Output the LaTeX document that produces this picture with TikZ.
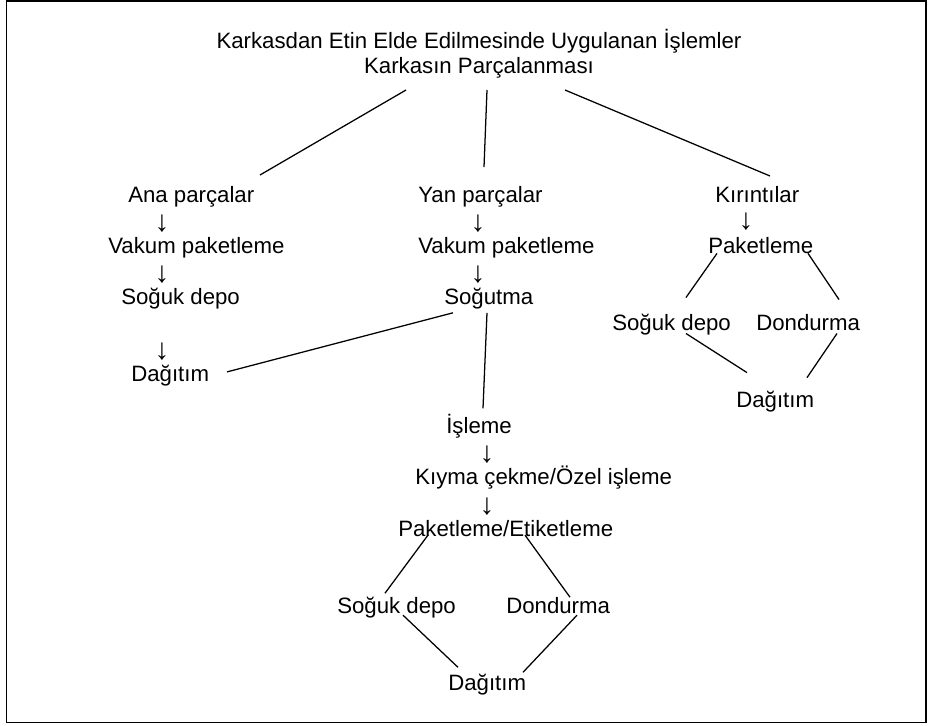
\documentclass[tikz,border=0pt]{standalone}
\usepackage{fontspec}
\setmainfont{Liberation Sans}
\usepackage{tikz}
\tikzstyle{metin}=[inner sep=0pt,anchor=base west,font=\fontsize{15.8}{18}\selectfont]
\tikzstyle{baslik}=[inner sep=0pt,anchor=base,font=\fontsize{15.8}{18}\selectfont]
\tikzstyle{ok}=[inner sep=0pt,anchor=center,font=\fontsize{21}{24}\selectfont]
\tikzstyle{hat}=[line width=0.9pt]
\tikzstyle{cerceve}=[line width=1.2pt]
\begin{document}
\begin{tikzpicture}[x=0.025cm,y=-0.025cm]
\useasboundingbox (0,0) rectangle (934,725);
\draw[cerceve] (6.5,1) rectangle (926,722.5);
\node[baslik] (t1) at (479,48) {Karkasdan Etin Elde Edilmesinde Uygulanan İşlemler};
\node[baslik] (t2) at (479,73.5) {Karkasın Parçalanması};
% ana parcalar
\node[metin] (a1) at (128,202) {Ana parçalar};
\node[ok] (oa1) at (162,223.5) {↓};
\node[metin] (a2) at (108,253.4) {Vakum paketleme};
\node[ok] (oa2) at (162,275) {↓};
\node[metin] (a3) at (121,304.8) {Soğuk depo};
\node[ok] (oa3) at (162,352) {↓};
\node[metin] (a4) at (131,381.9) {Dağıtım};
% yan parcalar
\node[metin] (b1) at (418,202) {Yan parçalar};
\node[ok] (ob1) at (478,223.5) {↓};
\node[metin] (b2) at (418,253.4) {Vakum paketleme};
\node[ok] (ob2) at (478,275) {↓};
\node[metin] (b3) at (444,304.8) {Soğutma};
\node[metin] (b4) at (446,433.3) {İşleme};
\node[ok] (ob3) at (487,455) {↓};
\node[metin] (b5) at (415,484.7) {Kıyma çekme/Özel işleme};
\node[ok] (ob4) at (487,506.5) {↓};
\node[metin] (b6) at (398,536.1) {Paketleme/Etiketleme};
\node[metin] (b7) at (337,613.2) {Soğuk depo};
\node[metin] (b8) at (506,613.2) {Dondurma};
\node[metin] (b9) at (448,690.3) {Dağıtım};
% kirintilar
\node[metin] (c1) at (715,202) {Kırıntılar};
\node[ok] (oc1) at (746,222) {↓};
\node[metin] (c2) at (708,253.4) {Paketleme};
\node[metin] (c3) at (612,330.5) {Soğuk depo};
\node[metin] (c4) at (756,330.5) {Dondurma};
\node[metin] (c5) at (736,407.6) {Dağıtım};
% cizgiler
\draw[hat] ([shift={(-73,16.5)}]t2.base) -- ([shift={(132,-27)}]a1.base west);
\draw[hat] ([shift={(8,16.5)}]t2.base) -- ([shift={(66,-35)}]b1.base west);
\draw[hat] ([shift={(86,16.5)}]t2.base) -- ([shift={(55,-26)}]c1.base west);
\draw[hat] ([shift={(9,8)}]b3.base west) -- ([shift={(96,-10)}]a4.base west);
\draw[hat] ([shift={(43,8)}]b3.base west) -- ([shift={(37,-25)}]b4.base west);
\draw[hat] ([shift={(30,-1)}]b6.base west) -- ([shift={(48,-20)}]b7.base west);
\draw[hat] ([shift={(127,-1)}]b6.base west) -- ([shift={(64,-16)}]b8.base west);
\draw[hat] ([shift={(66,2)}]b7.base west) -- ([shift={(10,-23)}]b9.base west);
\draw[hat] ([shift={(71,2)}]b8.base west) -- ([shift={(75,-18)}]b9.base west);
\draw[hat] ([shift={(9,0)}]c2.base west) -- ([shift={(74,-33)}]c3.base west);
\draw[hat] ([shift={(100,0)}]c2.base west) -- ([shift={(83,-31)}]c4.base west);
\draw[hat] ([shift={(74,3)}]c3.base west) -- ([shift={(11,-35)}]c5.base west);
\draw[hat] ([shift={(81,3)}]c4.base west) -- ([shift={(71,-30)}]c5.base west);
\end{tikzpicture}
\end{document}
